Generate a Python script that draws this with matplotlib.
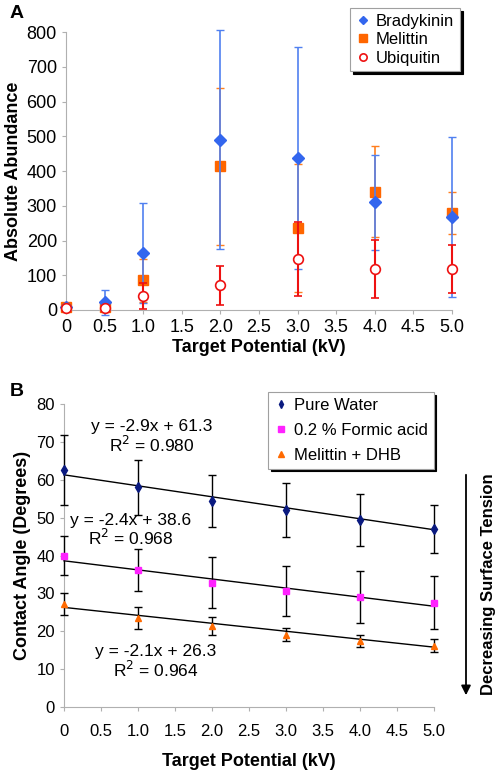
import numpy as np
import matplotlib
matplotlib.use("Agg")
from matplotlib import pyplot as plt

plt.rcParams['font.family'] = ['Liberation Sans', 'DejaVu Sans']

# ---- Panel A data ----
potential_a = [0, 0.5, 1.0, 2.0, 3.0, 4.0, 5.0]
bradykinin = [10, 22, 163, 490, 437, 310, 267]
bradykinin_err = [0, 36, 144, 315, 320, 137, 230]
melittin = [8, 8, 86, 413, 237, 341, 280]
melittin_err = [0, 0, 62, 227, 184, 131, 61]
ubiquitin = [5, 5, 40, 71, 146, 118, 118]
ubiquitin_err = [0, 0, 38, 57, 106, 84, 70]

# ---- Panel B data ----
potential_b = [0, 1, 2, 3, 4, 5]
pure_water = [62.5, 58.0, 54.3, 52.0, 49.4, 47.0]
pure_water_err = [9.2, 7.2, 6.9, 7.2, 6.9, 6.3]
formic = [40.0, 36.1, 32.8, 30.5, 29.0, 27.5]
formic_err = [5.1, 5.6, 6.7, 6.6, 6.8, 7.0]
mel_dhb = [27.1, 23.5, 21.3, 19.1, 17.5, 16.2]
mel_dhb_err = [2.9, 2.9, 2.4, 1.8, 1.6, 1.8]
fit_slope = [-2.9, -2.4, -2.1]
fit_icpt = [61.3, 38.6, 26.3]
fit_labels = ['y = -2.9x + 61.3\nR$^2$ = 0.980',
              'y = -2.4x + 38.6\nR$^2$ = 0.968',
              'y = -2.1x + 26.3\nR$^2$ = 0.964']

W, H = 504, 776
fig = plt.figure(figsize=(W / 100, H / 100), dpi=100)

def ax_rect(l, t, r, b):
    return [l / W, 1 - b / H, (r - l) / W, (b - t) / H]

def style_axes(ax):
    for s in ['top', 'right']:
        ax.spines[s].set_visible(False)
    for s in ['left', 'bottom']:
        ax.spines[s].set_color('#b0b0b0')
    ax.tick_params(axis='both', colors='#b0b0b0', labelcolor='black', length=3)
    ax.tick_params(axis='x', direction='out')

def shadow_legend(ax, handles, labels, bbox, fs, spacing):
    leg = ax.legend(handles, labels, loc='upper left', bbox_to_anchor=bbox,
                    bbox_transform=fig.transFigure, fontsize=fs, frameon=True,
                    fancybox=False, shadow={'color': 'black', 'alpha': 1},
                    handlelength=0.8, handletextpad=0.4, borderpad=0.35,
                    labelspacing=spacing, borderaxespad=0, markerscale=0.75)
    leg.get_frame().set_edgecolor('#a0a0a0')
    leg.get_frame().set_linewidth(0.8)
    return leg

# ---------- Panel A ----------
axA = fig.add_axes(ax_rect(66, 32, 452, 310))
ha = axA.errorbar(potential_a, bradykinin, yerr=bradykinin_err, fmt='D', color='#3366ee',
                  ms=6, ecolor='#5080f0', elinewidth=1.2, capsize=3, zorder=3)
hb = axA.errorbar(potential_a, melittin, yerr=melittin_err, fmt='s', color='#ff6600',
                  ms=7, ecolor='#ff7f1f', elinewidth=1.2, capsize=3, zorder=2)
hc = axA.errorbar(potential_a, ubiquitin, yerr=ubiquitin_err, fmt='o', mfc='white',
                  mec='#ee1111', color='#ee1111', ms=7, mew=1.2, ecolor='#ee1111',
                  elinewidth=1.5, capsize=3, zorder=4)
axA.set_xlim(0, 5)
axA.set_ylim(0, 800)
axA.set_xticks(np.arange(0, 5.01, 0.5))
axA.set_xticklabels(['0'] + ['%.1f' % v for v in np.arange(0.5, 5.01, 0.5)])
axA.set_yticks(range(0, 801, 100))
axA.tick_params(labelsize=13)
style_axes(axA)
axA.set_xlabel('Target Potential (kV)', fontsize=13, fontweight='bold', labelpad=2)
axA.set_ylabel('Absolute Abundance', fontsize=13, fontweight='bold', labelpad=3)
for c in axA.collections + axA.lines:
    c.set_clip_on(False)
shadow_legend(axA, [ha[0], hb[0], hc[0]], ['Bradykinin', 'Melittin', 'Ubiquitin'],
              (350 / W, 1 - 8 / H), 12, 0.2)
fig.text(10 / W, 1 - 14 / H, 'A', fontsize=14, fontweight='bold', va='center')

# ---------- Panel B ----------
axB = fig.add_axes(ax_rect(64, 404, 434, 707))
series = [(pure_water, pure_water_err, 'd', '#0a1a80', 5),
          (formic, formic_err, 's', '#ff22ff', 5),
          (mel_dhb, mel_dhb_err, '^', '#ff6a00', 5)]
handles = []
for (vals, err, mk, col, ms) in series:
    h = axB.errorbar(potential_b, vals, yerr=err, fmt=mk, color=col, ms=ms,
                     ecolor='black', elinewidth=1.0, capsize=3, zorder=3)
    handles.append(h[0])
xs = np.array([0, 5])
for m, b in zip(fit_slope, fit_icpt):
    axB.plot(xs, m * xs + b, color='black', lw=1.0, zorder=2)
axB.set_xlim(0, 5)
axB.set_ylim(0, 80)
axB.set_xticks(np.arange(0, 5.01, 0.5))
axB.set_xticklabels(['0'] + ['%.1f' % v for v in np.arange(0.5, 5.01, 0.5)])
axB.set_yticks(range(0, 81, 10))
axB.tick_params(labelsize=12)
axB.tick_params(axis='x', pad=9)
style_axes(axB)
axB.set_xlabel('Target Potential (kV)', fontsize=13, fontweight='bold', labelpad=10)
axB.set_ylabel('Contact Angle (Degrees)', fontsize=13, fontweight='bold', labelpad=4)
for c in axB.collections + axB.lines:
    c.set_clip_on(False)
eq_pos = [(1.19, 71.3), (0.9, 46.6), (1.24, 12.0)]
for (ex, ey), lab in zip(eq_pos, fit_labels):
    axB.text(ex, ey, lab, fontsize=12.5, ha='center', va='center', linespacing=1.05)
shadow_legend(axB, handles, ['Pure Water', '0.2 % Formic acid', 'Melittin + DHB'],
              (268 / W, 1 - 392 / H), 12, 0.6)
fig.text(10 / W, 1 - 392 / H, 'B', fontsize=14, fontweight='bold', va='center')

# arrow: decreasing surface tension
fig.add_artist(matplotlib.patches.FancyArrowPatch(
    (466 / W, 1 - 472 / H), (466 / W, 1 - 698 / H), transform=fig.transFigure,
    arrowstyle='-|>', mutation_scale=14, color='black', lw=1.3))
fig.text(489 / W, 1 - 584 / H, 'Decreasing Surface Tension', rotation=90,
         fontsize=12, fontweight='bold', ha='center', va='center')

fig.savefig('out.png', dpi=100)
